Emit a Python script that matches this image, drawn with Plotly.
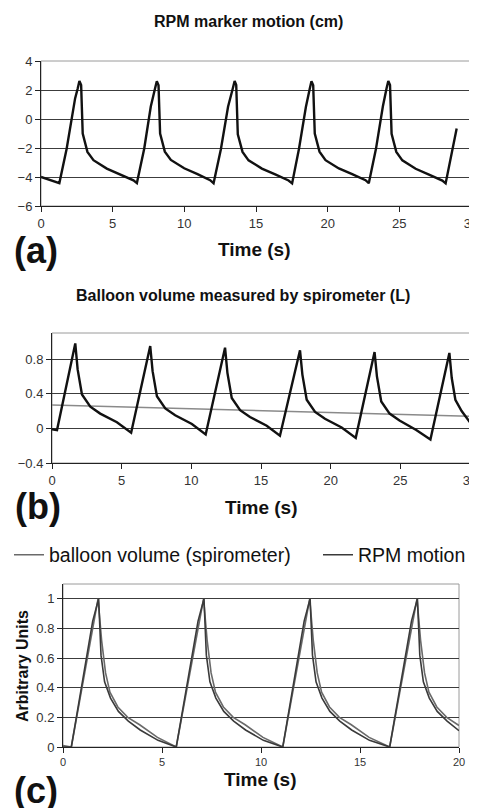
import plotly.graph_objects as go

# ---------------------------------------------------------------- data
# (a) RPM marker motion (cm)
RPM_T = [0, 0.6, 1.28, 1.79, 2.25, 2.38, 2.56, 2.68, 2.8, 2.91, 3.24, 3.66, 4.59, 5.52, 6.45, 6.69,
         7.2, 7.66, 7.78, 7.96, 8.08, 8.2, 8.31, 8.64, 9.06, 9.99, 10.92, 11.8, 12.04,
         12.55, 13.05, 13.18, 13.38, 13.51, 13.62, 13.73, 14.06, 14.48, 15.41, 16.34, 17.27, 17.52,
         18.0, 18.48, 18.58, 18.75, 18.87, 18.99, 19.1, 19.43, 19.85, 20.78, 21.71, 22.64, 22.87,
         23.37, 23.85, 23.95, 24.11, 24.23, 24.35, 24.46, 24.79, 25.21, 26.14, 27.07, 28.0, 28.23,
         28.7, 29.0]
RPM_CM = [-4.0, -4.2, -4.42, -2.05, 0.84, 1.42, 2.1, 2.62, 2.34, -1.0, -2.27, -2.84, -3.42, -3.81, -4.23, -4.42,
          -2.05, 0.86, 1.45, 2.12, 2.6, 2.32, -1.0, -2.25, -2.82, -3.4, -3.8, -4.22, -4.43,
          -2.08, 0.85, 1.43, 2.1, 2.62, 2.35, -1.05, -2.27, -2.85, -3.42, -3.82, -4.24, -4.44,
          -2.05, 0.83, 1.4, 2.08, 2.6, 2.33, -1.0, -2.25, -2.84, -3.41, -3.8, -4.22, -4.43,
          -2.06, 0.86, 1.44, 2.12, 2.62, 2.34, -1.02, -2.27, -2.85, -3.43, -3.83, -4.25, -4.44,
          -2.2, -0.65]

# (b) Balloon volume measured by spirometer (L)
VOL_T = [0, 0.36, 1.67, 1.84, 2.15, 2.75, 3.46, 4.66, 5.68,
         7.05, 7.22, 7.53, 8.13, 8.84, 10.04, 11.03,
         12.42, 12.59, 12.9, 13.5, 14.21, 15.41, 16.36,
         17.8, 17.97, 18.28, 18.88, 19.59, 20.79, 21.8,
         23.15, 23.32, 23.63, 24.23, 24.94, 26.14, 27.16,
         28.52, 28.69, 28.95, 29.4, 30.0]
VOL_L = [-0.01, -0.02, 0.98, 0.68, 0.39, 0.25, 0.17, 0.07, -0.05,
         0.95, 0.66, 0.37, 0.23, 0.15, 0.05, -0.07,
         0.93, 0.64, 0.35, 0.21, 0.13, 0.03, -0.085,
         0.9, 0.62, 0.33, 0.19, 0.11, 0.01, -0.11,
         0.88, 0.6, 0.31, 0.17, 0.09, -0.02, -0.13,
         0.87, 0.58, 0.33, 0.2, 0.07]
TREND_T = [0, 30]
TREND_L = [0.27, 0.14]

# (c) normalised traces, arbitrary units
BAL_T = [0, 0.42, 1.77, 1.95, 2.15, 2.37, 2.77, 3.27, 3.87, 4.77, 5.72,
         7.1, 7.28, 7.48, 7.7, 8.1, 8.6, 9.2, 10.1, 11.1,
         12.46, 12.64, 12.84, 13.06, 13.46, 13.96, 14.56, 15.46, 16.5,
         17.88, 18.06, 18.26, 18.48, 18.88, 19.38, 20.0]
BAL_AU = [0.01, 0.0, 1.0, 0.72, 0.5, 0.37, 0.27, 0.2, 0.15, 0.065, 0.0,
          1.0, 0.72, 0.5, 0.37, 0.27, 0.2, 0.15, 0.065, 0.0,
          1.0, 0.72, 0.5, 0.37, 0.27, 0.2, 0.15, 0.065, 0.0,
          1.0, 0.72, 0.5, 0.37, 0.27, 0.2, 0.145]
MOT_T = [0, 0.42, 1.5, 1.8, 1.92, 2.1, 2.4, 2.8, 3.3, 3.9, 4.8, 5.72,
         6.82, 7.12, 7.24, 7.42, 7.72, 8.12, 8.62, 9.22, 10.12, 11.1,
         12.18, 12.48, 12.6, 12.78, 13.08, 13.48, 13.98, 14.58, 15.48, 16.5,
         17.6, 17.9, 18.02, 18.2, 18.5, 18.9, 19.4, 20.0]
MOT_AU = [0.0, 0.0, 0.85, 1.0, 0.62, 0.44, 0.33, 0.24, 0.175, 0.115, 0.045, 0.0,
          0.85, 1.0, 0.62, 0.44, 0.33, 0.24, 0.175, 0.115, 0.045, 0.0,
          0.85, 1.0, 0.62, 0.44, 0.33, 0.24, 0.175, 0.115, 0.045, 0.0,
          0.85, 1.0, 0.62, 0.44, 0.33, 0.24, 0.175, 0.11]

# the page body keeps its 8px default margin, so the figure is 8px smaller than the window
OFF = 8
W, H = 477 - OFF, 808 - OFF
FONT = "Liberation Sans, Arial, sans-serif"


def px_x(p):
    return (p - OFF) / W


def px_y(p):
    return 1 - (p - OFF) / H


fig = go.Figure()
fig.add_trace(go.Scatter(x=RPM_T, y=RPM_CM, mode="lines", line=dict(color="#111111", width=2.4),
                         xaxis="x", yaxis="y", showlegend=False))
fig.add_trace(go.Scatter(x=TREND_T, y=TREND_L, mode="lines", line=dict(color="#8a8a8a", width=1.5),
                         xaxis="x2", yaxis="y2", showlegend=False))
fig.add_trace(go.Scatter(x=VOL_T, y=VOL_L, mode="lines", line=dict(color="#111111", width=2.4),
                         xaxis="x2", yaxis="y2", showlegend=False))
fig.add_trace(go.Scatter(x=BAL_T, y=BAL_AU, mode="lines", name="balloon volume (spirometer)",
                         line=dict(color="#6a6a6a", width=1.6), xaxis="x3", yaxis="y3", legend="legend"))
fig.add_trace(go.Scatter(x=MOT_T, y=MOT_AU, mode="lines", name="RPM motion",
                         line=dict(color="#3a3a3a", width=1.6), xaxis="x3", yaxis="y3", legend="legend2"))

# panel boxes in window pixels: (left, right, top, bottom)
panels = {
    "": (41, 471, 61, 206),
    "2": (52, 470, 333, 463),
    "3": (63, 459, 584, 747),
}
ranges = {
    "": ([0, 30], [-6, 4], 5, 2, 13, 13),
    "2": ([0, 30], [-0.4, 1.1], 5, 0.4, 13, 13),
    "3": ([0, 20], [0, 1.1], 5, 0.2, 11, 13),
}

axes = {}
shapes = []
for key, (l, r, t, b) in panels.items():
    xr, yr, dx, dy, xfs, yfs = ranges[key]
    axes["xaxis" + key] = dict(
        domain=[px_x(l), px_x(r)], range=xr, anchor="y" + key, dtick=dx, tick0=0,
        showline=True, linecolor="#222222", linewidth=1, ticks="outside", ticklen=5,
        tickcolor="#222222", showgrid=False, zeroline=False, automargin=False,
        ticklabeloverflow="allow",
        tickfont=dict(family=FONT, size=xfs, color="#333333"), fixedrange=True,
    )
    axes["yaxis" + key] = dict(
        domain=[px_y(b), px_y(t)], range=yr, anchor="x" + key, dtick=dy,
        tick0=yr[0] if key == "2" else 0,
        showline=True, linecolor="#222222", linewidth=1, ticks="outside", ticklen=5,
        tickcolor="#222222", showgrid=True, gridcolor="#3c3c3c", gridwidth=1, zeroline=False,
        automargin=False,
        tickfont=dict(family=FONT, size=yfs, color="#333333"), fixedrange=True,
    )
    shapes.append(dict(type="rect", xref="x%s domain" % key if key else "x domain",
                       yref="y%s domain" % key if key else "y domain",
                       x0=0, x1=1, y0=0, y1=1, line=dict(color="#9a9a9a", width=1), layer="below"))

annotations = []


def text(x, y, s, size, bold=True, angle=0):
    annotations.append(dict(
        x=px_x(x), y=px_y(y), xref="paper", yref="paper", text="<b>%s</b>" % s if bold else s,
        showarrow=False, xanchor="center", yanchor="middle", textangle=angle,
        font=dict(family=FONT, size=size, color="#111111"),
    ))


text(248, 22, "RPM marker motion (cm)", 16)
text(254, 249, "Time (s)", 19)
text(36, 251, "(a)", 36)
text(243, 295, "Balloon volume measured by spirometer (L)", 16)
text(261, 507, "Time (s)", 19)
text(38, 506, "(b)", 36)
text(260, 779, "Time (s)", 19)
text(22, 666, "Arbitrary Units", 16, angle=-90)
text(36, 790, "(c)", 36)

legend_style = dict(orientation="h", xanchor="left", y=px_y(555), yanchor="middle",
                    font=dict(family=FONT, size=19.5, color="#111111"), bgcolor="rgba(0,0,0,0)")

fig.update_layout(
    width=W, height=H,
    margin=dict(l=0, r=0, t=0, b=0, pad=0, autoexpand=False),
    paper_bgcolor="white", plot_bgcolor="white",
    font=dict(family=FONT, color="#111111"),
    shapes=shapes, annotations=annotations,
    legend=dict(x=px_x(9), **legend_style),
    legend2=dict(x=px_x(318), **legend_style),
    **axes,
)

fig.write_html("out.html")
